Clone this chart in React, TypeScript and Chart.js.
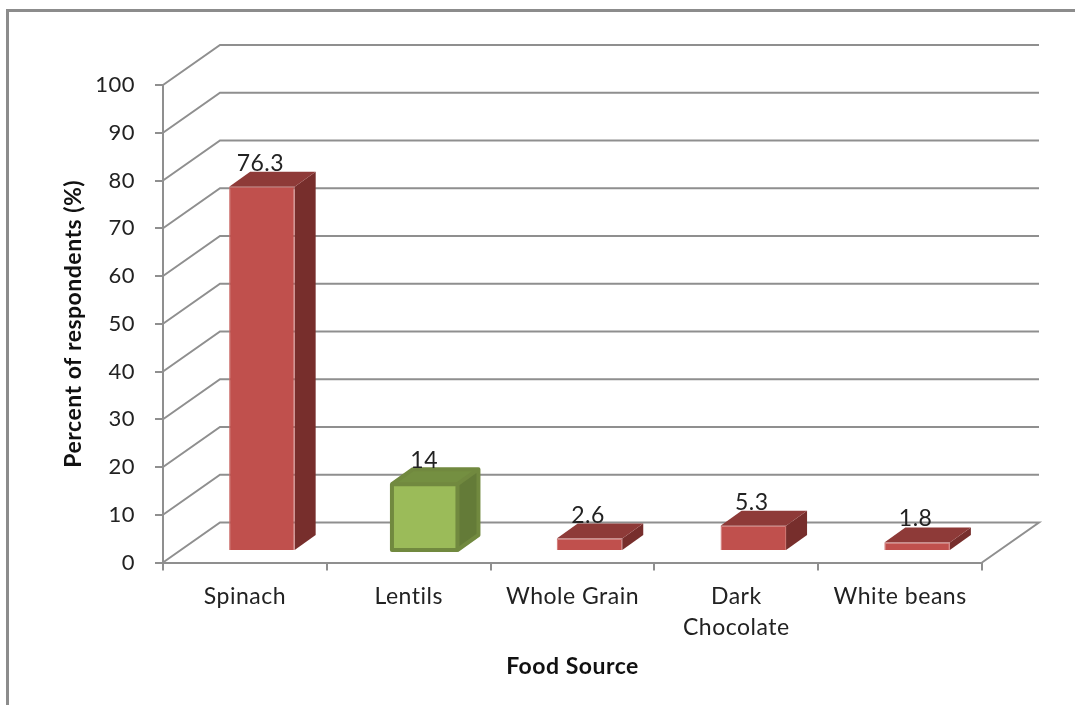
import React, { useEffect, useRef } from "react";
import { Chart, registerables } from "chart.js";

Chart.register(...registerables);

const categories = ["Spinach", "Lentils", "Whole Grain", ["Dark", "Chocolate"], "White beans"];
const percentValues = [76.3, 14, 2.6, 5.3, 1.8];
const frontColors = ["#C0504D", "#9BBB59", "#C0504D", "#C0504D", "#C0504D"];
const edgeColors = ["#CB6B68", "#71893F", "#CB6B68", "#CB6B68", "#CB6B68"];
const topColors = ["#8E3A38", "#748F41", "#8E3A38", "#8E3A38", "#8E3A38"];
const sideColors = ["#772E2C", "#647B38", "#772E2C", "#772E2C", "#772E2C"];
const OUTLINED_BAR = 1;

const FONT = "Lato, 'Open Sans', sans-serif";
const GRID = "#8F8F8F";
const WALL_DX = 57;
const WALL_DY = 40;
const BAR_SHIFT_X = 17;
const BAR_SHIFT_Y = -11.5;
const BAR_DX = 21;
const BAR_DY = 15;

// Slightly open tracking for every string on the canvas.
const trackingPlugin = {
  id: "tracking",
  beforeDraw(chart: any) {
    chart.ctx.letterSpacing = "0.5px";
  },
};

// Back wall, side wall and floor of the pseudo-3D plot box.
const wallsPlugin = {
  id: "walls",
  beforeDatasetsDraw(chart: any) {
    const { ctx, scales } = chart;
    const { x: xs, y: ys } = scales;
    ctx.save();
    ctx.strokeStyle = GRID;
    ctx.lineWidth = 2;
    ctx.lineJoin = "miter";
    const right = xs.right;
    ys.ticks.forEach((t: any) => {
      const y = ys.getPixelForValue(t.value);
      ctx.beginPath();
      ctx.moveTo(xs.left, y);
      ctx.lineTo(xs.left + WALL_DX, y - WALL_DY);
      ctx.lineTo(right + WALL_DX, y - WALL_DY);
      if (t.value === 0) ctx.lineTo(right, y);
      ctx.stroke();
    });
    ctx.restore();
  },
};

// Extruded faces, the offset into the box, and value captions for each bar.
const extrudePlugin = {
  id: "extrude",
  beforeDatasetDraw(chart: any, args: any) {
    const { ctx } = chart;
    ctx.save();
    ctx.translate(BAR_SHIFT_X, BAR_SHIFT_Y);
    args.meta.data.forEach((bar: any, i: number) => {
      const left = bar.x - bar.width / 2;
      const right = bar.x + bar.width / 2;
      const top = bar.y;
      const base = bar.base;
      ctx.fillStyle = sideColors[i];
      ctx.beginPath();
      ctx.moveTo(right, top);
      ctx.lineTo(right + BAR_DX, top - BAR_DY);
      ctx.lineTo(right + BAR_DX, base - BAR_DY);
      ctx.lineTo(right, base);
      ctx.closePath();
      ctx.fill();
      ctx.fillStyle = topColors[i];
      ctx.beginPath();
      ctx.moveTo(left, top);
      ctx.lineTo(left + BAR_DX, top - BAR_DY);
      ctx.lineTo(right + BAR_DX, top - BAR_DY);
      ctx.lineTo(right, top);
      ctx.closePath();
      ctx.fill();
    });
  },
  afterDatasetDraw(chart: any, args: any) {
    const { ctx } = chart;
    const outlined = args.meta.data[OUTLINED_BAR];
    if (outlined) {
      const left = outlined.x - outlined.width / 2 - 1;
      const right = outlined.x + outlined.width / 2 - 1;
      const top = outlined.y;
      const base = outlined.base;
      ctx.strokeStyle = edgeColors[OUTLINED_BAR];
      ctx.lineWidth = 4;
      ctx.lineJoin = "round";
      ctx.strokeRect(left, top, right - left, base - top);
      ctx.beginPath();
      ctx.moveTo(left, top);
      ctx.lineTo(left + BAR_DX, top - BAR_DY);
      ctx.lineTo(right + BAR_DX, top - BAR_DY);
      ctx.lineTo(right + BAR_DX, base - BAR_DY);
      ctx.lineTo(right, base);
      ctx.moveTo(right, top);
      ctx.lineTo(right + BAR_DX, top - BAR_DY);
      ctx.stroke();
    }
    ctx.restore();
    ctx.save();
    ctx.font = `23px ${FONT}`;
    ctx.fillStyle = "#222222";
    ctx.textAlign = "center";
    ctx.textBaseline = "alphabetic";
    args.meta.data.forEach((bar: any, i: number) => {
      const x = bar.x + BAR_SHIFT_X - 1.5;
      const y = bar.y + BAR_SHIFT_Y - BAR_DY - 1;
      ctx.fillText(String(percentValues[i]), x, y);
    });
    ctx.restore();
  },
};

export default function App() {
  const canvasRef = useRef<HTMLCanvasElement>(null);

  useEffect(() => {
    const chart = new Chart(canvasRef.current as HTMLCanvasElement, {
      type: "bar",
      data: {
        labels: categories as any,
        datasets: [
          {
            data: percentValues,
            backgroundColor: frontColors,
            borderColor: edgeColors,
            borderWidth: (c: any) => (c.dataIndex === OUTLINED_BAR ? 0 : 1),
            barPercentage: 0.4,
            categoryPercentage: 1,
            clip: false,
          } as any,
        ],
      },
      options: {
        responsive: false,
        animation: false,
        layout: { padding: { left: 60, top: 85, right: 93, bottom: 25 } },
        plugins: { legend: { display: false }, tooltip: { enabled: false } },
        scales: {
          x: {
            grid: { drawOnChartArea: false, color: GRID, lineWidth: 2, tickLength: 8 },
            border: { color: GRID, width: 2 },
            ticks: {
              color: "#222222",
              padding: 11,
              maxRotation: 0,
              autoSkip: false,
              font: { family: FONT, size: 23, lineHeight: 1.35 },
            },
            title: {
              display: true,
              text: "Food Source",
              color: "#111111",
              padding: 0,
              font: { family: FONT, size: 23, weight: "bold" },
            },
            afterFit: (s: any) => {
              s.height = 117.5;
            },
          },
          y: {
            min: 0,
            max: 100,
            grid: { drawOnChartArea: false, color: GRID, lineWidth: 2, tickLength: 8 },
            border: { color: GRID, width: 2 },
            ticks: {
              stepSize: 10,
              color: "#222222",
              padding: 20,
              font: { family: FONT, size: 22 },
            },
            title: {
              display: true,
              text: "Percent of respondents (%)",
              color: "#111111",
              padding: 0,
              font: { family: FONT, size: 23, weight: "bold" },
            },
            afterFit: (s: any) => {
              s.width = 103;
            },
          },
        },
      },
      plugins: [trackingPlugin, wallsPlugin, extrudePlugin],
    } as any);
    return () => chart.destroy();
  }, []);

  return (
    <div style={{ position: "absolute", left: 0, top: 0, width: 1075, height: 705, overflow: "hidden", background: "#fff" }}>
      <canvas ref={canvasRef} width={1075} height={705} style={{ display: "block" }} />
      <div
        style={{
          position: "absolute",
          left: 6,
          top: 9,
          right: -10,
          bottom: -10,
          borderLeft: "3px solid #8C8C8C",
          borderTop: "3px solid #8C8C8C",
        }}
      />
    </div>
  );
}
